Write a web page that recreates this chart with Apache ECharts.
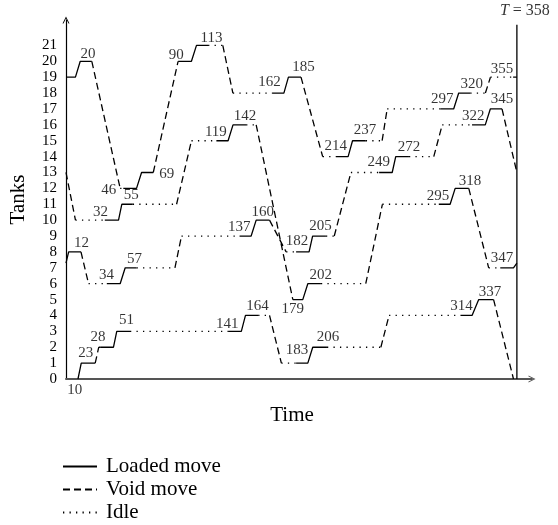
<!DOCTYPE html>
<html><head><meta charset="utf-8">
<script src="https://cdn.jsdelivr.net/npm/echarts@6/dist/echarts.min.js"></script>
<style>html,body{margin:0;padding:0;background:#fff}#c{width:558px;height:525px}</style>
</head><body><div id="c"></div>
<script>
// ---- data (time, tank level, type of move to next point: L loaded, V void, I idle)
const cycleTime = 358;
const tankLabels = [0,1,2,3,4,5,6,7,8,9,10,11,12,13,14,15,16,17,18,19,20,21];
const loopA = [
 [0,19,'L'],[7.5,19,'L'],[11.3,20,'L'],[20.5,20,'V'],[43,12,'I'],[45.5,12,'L'],[56,12,'L'],[60,13,'L'],[69.3,13,'V'],
 [89,20,'L'],[99.6,20,'L'],[103.6,21,'L'],[112.8,21,'I'],[124.5,21,'V'],[132.5,18,'I'],[164.3,18,'L'],[173,18,'L'],
 [176.6,19,'L'],[186.6,19,'V'],[203.8,14,'I'],[214.3,14,'L'],[224,14,'L'],[227.5,15,'L'],[238,15,'I'],[251,15,'V'],
 [255,17,'I'],[297.3,17,'L'],[307.8,17,'L'],[311.8,18,'L'],[321,18,'I'],[333,18,'V'],[337,19,'I'],[355,19,'L'],[358,19,null]
];
const loopB = [
 [0,13,'V'],[7.5,10,'I'],[30.8,10,'L'],[41.7,10,'L'],[44.3,11,'L'],[53,11,'I'],[87.8,11,'V'],[99.6,15,'I'],
 [119.4,15,'L'],[128.7,15,'L'],[132.6,16,'L'],[143,16,'I'],[151,16,'V'],[180.1,5,'L'],[188,5,'L'],[192,6,'L'],
 [202.4,6,'I'],[238,6,'V'],[251.2,11,'I'],[296,11,'L'],[305,11,'L'],[309,12,'L'],[319.8,12,'V'],[335.6,7,'I'],
 [344.8,7,'L'],[355.3,7,'L'],[358,7.3,null]
];
const loopC = [
 [0,7.3,'L'],[2.1,8,'L'],[11.9,8,'V'],[17.9,6,'I'],[32.4,6,'L'],[43,6,'L'],[47,7,'L'],[56,7,'I'],[86.5,7,'V'],
 [91.7,9,'I'],[137.8,9,'L'],[147,9,'L'],[151,10,'L'],[161.6,10,'V'],[174.8,8,'I'],[182.7,8,'L'],[193,8,'L'],
 [195.8,9,'L'],[206.4,9,'I'],[213,9,'V'],[226.2,13,'I'],[248.6,13,'L'],[259,13,'L'],[261.8,14,'L'],[272.3,14,'I'],
 [292,14,'V'],[298.7,16,'I'],[322.4,16,'L'],[332.9,16,'L'],[336.9,17,'L'],[346.2,17,'V'],[358,13,null]
];
const loopD = [
 [9.5,0,'L'],[12.1,1,'L'],[23.2,1,'V'],[26,2,'I'],[27.1,2,'L'],[37.7,2,'L'],[40.3,3,'L'],[50.8,3,'I'],
 [128.7,3,'L'],[139.2,3,'L'],[142.5,4,'L'],[152.6,4,'I'],[161.6,4,'V'],[171,1,'I'],[182.7,1,'L'],[192,1,'L'],
 [195.9,2,'L'],[207.2,2,'I'],[250,2,'V'],[256.5,4,'I'],[313.2,4,'L'],[322.4,4,'L'],[327.7,5,'L'],[339.5,5,'V'],[355.3,0,null]
];
// time-stamp annotations: text and where it sits (time, tank)
const stampText = ['10','12','20','23','28','32','34','46','51','55','57','69','90','113','119','137','141','142',
 '160','162','164','179','182','183','185','202','205','206','214','237','249','272','295','297','314','318',
 '320','322','337','345','347','355'];
const stampAt = [[7,-0.69],[12.3,8.58],[17.5,20.46],[15.7,1.64],[25.4,2.63],[27.4,10.52],[32.2,6.57],[34,11.88],
 [48,3.7],[51.8,11.57],[54.4,7.53],[79.9,12.87],[87.5,20.42],[115.5,21.47],[119,15.56],[137.5,9.59],[128,3.48],
 [142.2,16.53],[156.3,10.54],[161.6,18.71],[152.1,4.61],[180,4.38],[183.5,8.68],[183.5,1.8],[188.6,19.65],
 [202.2,6.57],[202,9.63],[208.1,2.63],[214.1,14.64],[237.4,15.66],[248.3,13.64],[272.3,14.62],[295.4,11.54],
 [298.7,17.61],[314.1,4.59],[320.7,12.48],[322.1,18.55],[323.3,16.58],[336.7,5.5],[346.1,17.6],[346.1,7.6],[346.1,19.5]];
const cycleLineTop = 22.3;

// ---- build
const FONT = 'Liberation Serif';
const segs = {L: [], V: [], I: []};
function addLoop(loop) {
  for (let i = 0; i < loop.length - 1; i++) {
    const t = loop[i][2];
    const p = [loop[i][0], loop[i][1]], q = [loop[i+1][0], loop[i+1][1]];
    const arr = segs[t];
    const last = arr[arr.length - 1];
    if (last && last[0] === p[0] && last[1] === p[1]) arr.push(q);
    else { if (arr.length) arr.push(null); arr.push(p, q); }
  }
}
[loopA, loopB, loopC, loopD].forEach(addLoop);

function lineSeries(name, data, type) {
  return {name, type: 'line', data, symbol: 'none', showSymbol: false, connectNulls: false,
    animation: false, silent: true, z: 3, itemStyle: {color: '#000'},
    lineStyle: {color: '#000', width: 1.3, type}};
}

const chart = echarts.init(document.getElementById('c'));
chart.setOption({
  animation: false,
  grid: {left: 64, right: 26, top: 20, bottom: 146},
  xAxis: {type: 'value', min: 0, max: 370, name: 'Time', nameLocation: 'middle', nameGap: 26,
    nameTextStyle: {fontFamily: FONT, fontSize: 21, color: '#000', padding: [0, 14, 0, 0]},
    axisLine: {show: true, lineStyle: {color: '#555', width: 2},
      symbol: ['none', 'path://M0,10 L5,0 L10,10 L8.6,10 L5,2.8 L1.4,10 Z'], symbolSize: [10, 7]},
    axisTick: {show: false}, axisLabel: {show: false}, splitLine: {show: false}},
  yAxis: {type: 'value', min: 0, max: 22.6, interval: 1, name: 'Tanks', nameLocation: 'middle', nameGap: 37,
    nameRotate: 90, nameTextStyle: {fontFamily: FONT, fontSize: 21, color: '#000'},
    axisLine: {show: true, lineStyle: {color: '#000', width: 1.2},
      symbol: ['none', 'path://M0,10 L5,0 L10,10 L8.6,10 L5,2.8 L1.4,10 Z'], symbolSize: [10, 7]},
    axisTick: {show: false}, splitLine: {show: false},
    axisLabel: {fontFamily: FONT, fontSize: 15, color: '#000', margin: 9,
      formatter: v => tankLabels.indexOf(v) >= 0 ? String(v) : ''}},
  legend: {orient: 'vertical', left: 62, top: 456, padding: 0, itemWidth: 34, itemHeight: 12, itemGap: 2,
    data: ['Loaded move', 'Void move', 'Idle'], itemStyle: {opacity: 0},
    textStyle: {fontFamily: FONT, fontSize: 21, color: '#000', padding: [0, 0, 0, 4]}},
  series: [
    lineSeries('Loaded move', segs.L, 'solid'),
    lineSeries('Void move', segs.V, [7, 4]),
    lineSeries('Idle', segs.I, [1.3, 5.2]),
    {type: 'line', data: [[cycleTime, 0], [cycleTime, cycleLineTop]], symbol: 'none', silent: true, z: 3,
      lineStyle: {color: '#000', width: 1.3}},
    {type: 'scatter', data: stampAt.map((p, i) => ({value: p, label: {formatter: stampText[i]}})),
      symbolSize: 1, itemStyle: {color: 'rgba(0,0,0,0)'}, clip: false, silent: true, z: 5,
      label: {show: true, position: 'inside', fontFamily: FONT, fontSize: 15, color: '#000'}},
    {type: 'scatter', data: [[cycleTime, cycleLineTop]], symbolSize: 1, itemStyle: {color: 'rgba(0,0,0,0)'},
      clip: false, silent: true, z: 5,
      label: {show: true, position: 'top', distance: 5, offset: [8, 0], fontFamily: FONT, fontSize: 16, color: '#000',
        formatter: '{i|T} = ' + cycleTime, rich: {i: {fontStyle: 'italic', fontFamily: FONT, fontSize: 16}}}}
  ]
});
</script></body></html>
